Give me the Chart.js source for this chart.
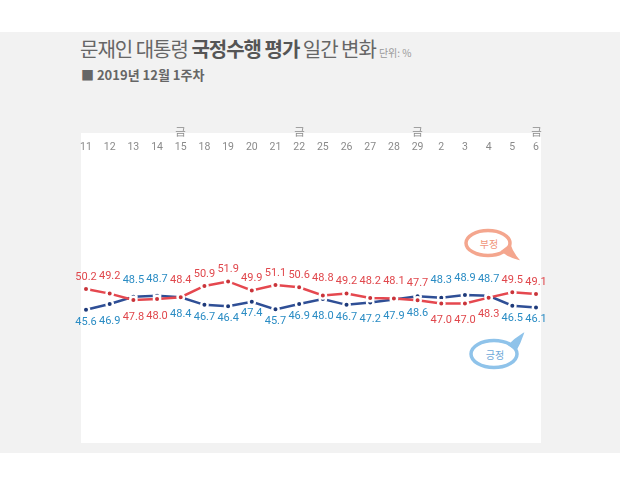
<!DOCTYPE html>
<html><head><meta charset="utf-8">
<script src="https://cdn.jsdelivr.net/npm/chart.js@4"></script>
<style>
html,body{margin:0;padding:0;width:620px;height:483px;overflow:hidden;background:#fff;font-family:"Noto Sans CJK KR",sans-serif;}
#band{position:absolute;left:0;top:32px;width:620px;height:421px;background:#f2f2f2;}
#panel{position:absolute;left:81px;top:133px;width:460px;height:310px;background:#fff;}
#title{position:absolute;left:80px;top:37px;font-size:20px;line-height:24px;color:#666;letter-spacing:-1px;white-space:nowrap;}
#title b{color:#555;}
#unit{font-size:10px;letter-spacing:0;color:#999;margin-left:3px;}
#sub{position:absolute;left:81px;top:67px;font-size:13px;line-height:16px;font-weight:bold;color:#666;white-space:nowrap;}
#c{position:absolute;left:0;top:0;}
#bubbles{position:absolute;left:0;top:0;}
</style></head>
<body>
<div id="band"></div>
<div id="panel"></div>
<div id="title">문재인 대통령 <b>국정수행 평가</b> 일간 변화<span id="unit">단위: %</span></div>
<div id="sub">■ 2019년 12월 1주차</div>
<svg id="bubbles" width="620" height="483">
  <g stroke="#f4a68e" stroke-width="3.5" fill="none">
    <ellipse cx="488" cy="243" rx="22" ry="12.5"/>
  </g>
  <path d="M 502 251 Q 509 257 518 259 Q 512 252 510 245 Z" fill="#f4a68e" stroke="#f4a68e" stroke-width="1.5"/>
  <text x="489" y="243" font-size="10" fill="#f0957a" text-anchor="middle" dominant-baseline="central" font-family="Noto Sans CJK KR">부정</text>
  <g stroke="#8fc3ea" stroke-width="3.5" fill="none">
    <ellipse cx="494" cy="354" rx="23" ry="13.5"/>
  </g>
  <path d="M 509 345 Q 515 339 523 334 Q 520 343 516 350 Z" fill="#8fc3ea" stroke="#8fc3ea" stroke-width="1.5"/>
  <text x="495" y="354" font-size="10" fill="#6fa9d8" text-anchor="middle" dominant-baseline="central" font-family="Noto Sans CJK KR">긍정</text>
</svg>
<canvas id="c" width="620" height="483"></canvas>
<script>
const days = ['11','12','13','14','15','18','19','20','21','22','25','26','27','28','29','2','3','4','5','6'];
const fridays = ['15','22','29','6'];
const fridayMark = '금';
const negative = [50.2,49.2,47.8,48.0,48.4,50.9,51.9,49.9,51.1,50.6,48.8,49.2,48.2,48.1,47.7,47.0,47.0,48.3,49.5,49.1];
const positive = [45.6,46.9,48.5,48.7,48.4,46.7,46.4,47.4,45.7,46.9,48.0,46.7,47.2,47.9,48.6,48.3,48.9,48.7,46.5,46.1];
const keepNegativeLabelAbove = ['29'];

const labels = days.map(d => fridays.includes(d) ? [fridayMark, d] : d);

const valueLabels = {
  id: 'valueLabels',
  afterDatasetsDraw(chart) {
    const ctx = chart.ctx;
    ctx.save();
    ctx.font = '11px Roboto';
    ctx.textAlign = 'center';
    ctx.textBaseline = 'middle';
    chart.data.datasets.forEach((ds, di) => {
      const meta = chart.getDatasetMeta(di);
      const other = chart.data.datasets[1 - di].data;
      meta.data.forEach((pt, i) => {
        const v = ds.data[i], o = other[i];
        let above = v > o || (v === o && di === 0);
        if (keepNegativeLabelAbove.includes(days[i])) above = (di === 0);
        const off = Math.abs(v - o) < 2.5 ? 17 : 12;
        ctx.fillStyle = ds.labelColor;
        ctx.fillText(v.toFixed(1), pt.x, pt.y + (above ? -off : off));
      });
    });
    ctx.restore();
  }
};

new Chart(document.getElementById('c'), {
  type: 'line',
  data: {
    labels,
    datasets: [
      { label: '부정', data: negative, borderColor: '#e5484f', backgroundColor: '#c9343a',
        pointBackgroundColor: '#c9343a', pointBorderColor: '#ffffff', pointBorderWidth: 2.4, pointRadius: 3.2,
        borderWidth: 2.5, tension: 0, labelColor: '#e0474c' },
      { label: '긍정', data: positive, borderColor: '#2f4f96', backgroundColor: '#1e3a7a',
        pointBackgroundColor: '#1e3a7a', pointBorderColor: '#ffffff', pointBorderWidth: 2.4, pointRadius: 3.2,
        borderWidth: 2.5, tension: 0, labelColor: '#2a8cc4' }
    ]
  },
  options: {
    responsive: false,
    animation: false,
    layout: { padding: { top: 120, bottom: 40, left: 86, right: 84 }, autoPadding: false },
    plugins: { legend: { display: false }, tooltip: { enabled: false } },
    scales: {
      x: {
        position: 'top',
        grid: { display: false, drawTicks: false },
        border: { display: false },
        ticks: { color: '#8a8a8a', font: { size: 10.5, family: 'Roboto', lineHeight: 1.45 }, padding: 0, maxRotation: 0, autoSkip: false },
        afterFit(s) { s.height = 35; }
      },
      y: { display: false, min: 16, max: 80 }
    }
  },
  plugins: [valueLabels]
});
</script>
</body></html>
